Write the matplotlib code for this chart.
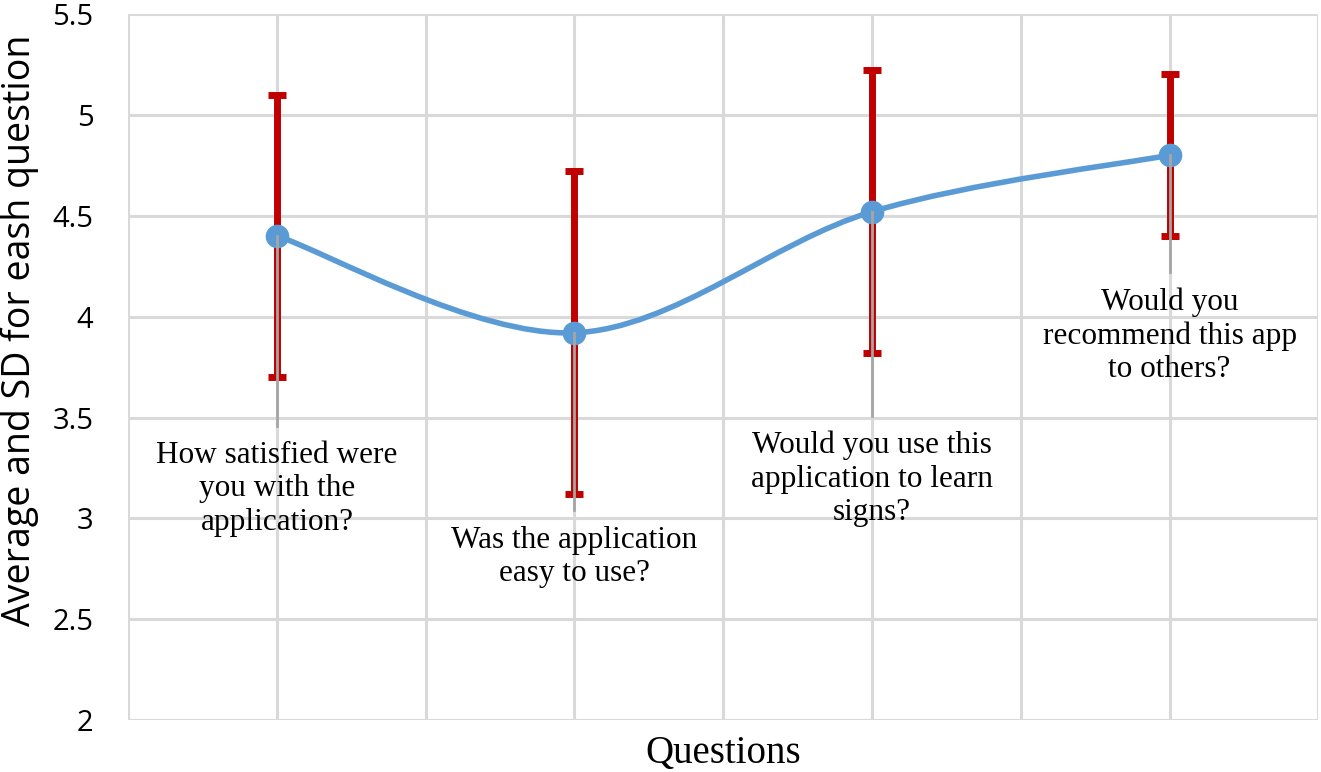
import matplotlib.pyplot as plt
from matplotlib.path import Path
import matplotlib.patches as patches
import numpy as np

# Survey results: mean and SD per question
questions = [
    "How satisfied were\nyou with the\napplication?",
    "Was the application\neasy to use?",
    "Would you use this\napplication to learn\nsigns?",
    "Would you\nrecommend this app\nto others?",
]
means = [4.40, 3.92, 4.52, 4.80]
sds = [0.70, 0.80, 0.70, 0.40]
yticks = [2, 2.5, 3, 3.5, 4, 4.5, 5, 5.5]
ytick_labels = ["2", "2.5", "3", "3.5", "4", "4.5", "5", "5.5"]

# where the data-label leader lines end (layout, in y units)
leader_end = [3.46, 3.04, 3.51, 4.22]

blue = "#5B9BD5"
red = "#C00000"
grid = "#D9D9D9"

fig = plt.figure(figsize=(13.21, 7.72), dpi=100)
ax = fig.add_axes([0.097, 0.067, 0.901, 0.915])

x = np.arange(len(means))

ax.set_xlim(-0.5, 3.5)
ax.set_ylim(2, 5.5)
ax.set_yticks(yticks)
ax.set_yticklabels(ytick_labels, fontfamily="Open Sans", fontsize=21)
ax.set_xticks(np.arange(-0.5, 3.51, 0.5))
ax.set_xticklabels([])
ax.tick_params(length=0)
ax.tick_params(axis="y", pad=25)
ax.grid(True, color=grid, linewidth=2.2, zorder=0)
for s in ax.spines.values():
    s.set_visible(False)
ax.axvline(-0.5, color="#BFBFBF", linewidth=2.2, zorder=0.5)

# error bars
ax.errorbar(x, means, yerr=sds, fmt="none", ecolor=red, elinewidth=5,
            capsize=6.5, capthick=5, zorder=2)

# smoothed line (Catmull-Rom style Bezier, like a spreadsheet smooth line)
pts = np.column_stack([x, means]).astype(float)
ext = np.vstack([pts[0], pts, pts[-1]])
verts = [tuple(pts[0])]
codes = [Path.MOVETO]
for i in range(len(pts) - 1):
    p0, p1, p2, p3 = ext[i], ext[i + 1], ext[i + 2], ext[i + 3]
    c1 = p1 + (p2 - p0) / 6
    c2 = p2 - (p3 - p1) / 6
    verts += [tuple(c1), tuple(c2), tuple(p2)]
    codes += [Path.CURVE4] * 3
ax.add_patch(patches.PathPatch(Path(verts, codes), facecolor="none",
                               edgecolor=blue, linewidth=4, zorder=3,
                               capstyle="round"))
ax.plot(x, means, "o", color=blue, markersize=16, zorder=4)

# leader lines and labels
for xi, m, le, q in zip(x, means, leader_end, questions):
    ax.plot([xi, xi], [m, le], color="#A6A6A6", linewidth=2, zorder=5)
    ax.text(xi, le - 0.075, q, ha="center", va="top", fontfamily="Liberation Serif",
            fontsize=22.5, linespacing=1.2, zorder=6)

fig.text(723 / 1321, 1 - 763 / 772, "Questions", ha="center", va="baseline",
         fontfamily="Liberation Serif", fontsize=28)
fig.text(20 / 1321, 1 - 330 / 772, "Average and SD for eash question",
         rotation=90, ha="center", va="center", fontfamily="Open Sans", fontsize=27)

fig.savefig("out.png", dpi=100)
